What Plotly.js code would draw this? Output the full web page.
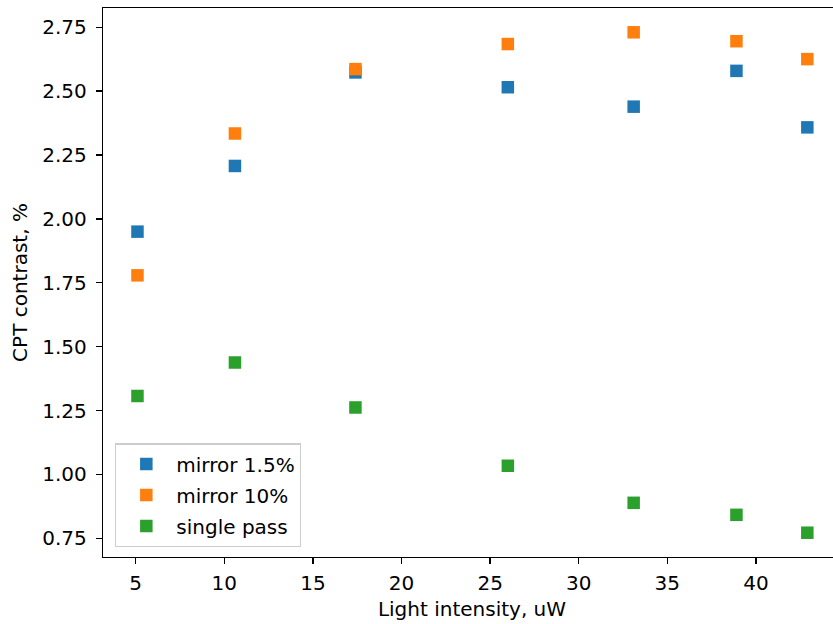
<!DOCTYPE html>
<html>
<head>
<meta charset="utf-8">
<script src="https://cdn.plot.ly/plotly-3.0.1.min.js"></script>
<style>
html, body { margin: 0; padding: 0; overflow: hidden; background: #fff; }
#chart { width: 850px; height: 624px; }
</style>
</head>
<body>
<div id="chart"></div>
<script>
// Data
const intensity = [5.1, 10.6, 17.4, 26.0, 33.1, 38.9, 42.9];
const mirror15 = [1.950, 2.207, 2.573, 2.515, 2.439, 2.579, 2.358];
const mirror10 = [1.779, 2.334, 2.586, 2.684, 2.730, 2.695, 2.625];
const singlePass = [1.307, 1.438, 1.262, 1.034, 0.889, 0.842, 0.772];
const seriesNames = ["mirror 1.5%", "mirror 10%", "single pass"];
const seriesColors = ["#1f77b4", "#ff7f0e", "#2ca02c"];
const yTicks = [0.75, 1.00, 1.25, 1.50, 1.75, 2.00, 2.25, 2.50, 2.75];

const seriesValues = [mirror15, mirror10, singlePass];
const FONT = "DejaVu Sans, sans-serif";
const FS = 20;

const traces = seriesValues.map((vals, i) => ({
  type: "scatter",
  mode: "markers",
  x: intensity,
  y: vals,
  name: seriesNames[i],
  legendgroup: "g" + i,
  marker: { symbol: "square", size: 12.5, color: seriesColors[i], line: { width: 0 } }
}));

const axisCommon = {
  showgrid: false,
  zeroline: false,
  showline: true,
  mirror: true,
  linecolor: "#000",
  linewidth: 1.3,
  ticks: "outside",
  ticklen: 6,
  tickwidth: 1.3,
  tickcolor: "#000",
  tickfont: { family: FONT, size: FS, color: "#000" },
  automargin: false
};

const layout = {
  width: 850,
  height: 624,
  margin: { l: 103, r: 9, t: 8, b: 67 },
  paper_bgcolor: "#fff",
  plot_bgcolor: "#fff",
  showlegend: true,
  font: { family: FONT, size: FS, color: "#000" },
  xaxis: Object.assign({}, axisCommon, {
    range: [3.155, 44.8],
    tick0: 5,
    dtick: 5,
    ticklabelstandoff: 2,
    title: { text: "Light intensity, uW", font: { family: FONT, size: FS, color: "#000" }, standoff: 7 }
  }),
  yaxis: Object.assign({}, axisCommon, {
    range: [0.677, 2.825],
    tickvals: yTicks,
    tickformat: ".2f",
    ticklabelstandoff: 5,
    title: { text: "CPT contrast, %", font: { family: FONT, size: FS, color: "#000" }, standoff: 9 }
  }),
  legend: {
    x: 0.0163,
    y: 0.0177,
    xanchor: "left",
    yanchor: "bottom",
    bgcolor: "rgba(255,255,255,0.8)",
    bordercolor: "#cccccc",
    borderwidth: 1.3,
    font: { family: FONT, size: FS, color: "#000" },
    itemwidth: 50,
    entrywidth: 135,
    entrywidthmode: "pixels",
    tracegroupgap: 2,
    traceorder: "grouped"
  }
};

Plotly.newPlot("chart", traces, layout, { staticPlot: true, displayModeBar: false });
</script>
</body>
</html>
